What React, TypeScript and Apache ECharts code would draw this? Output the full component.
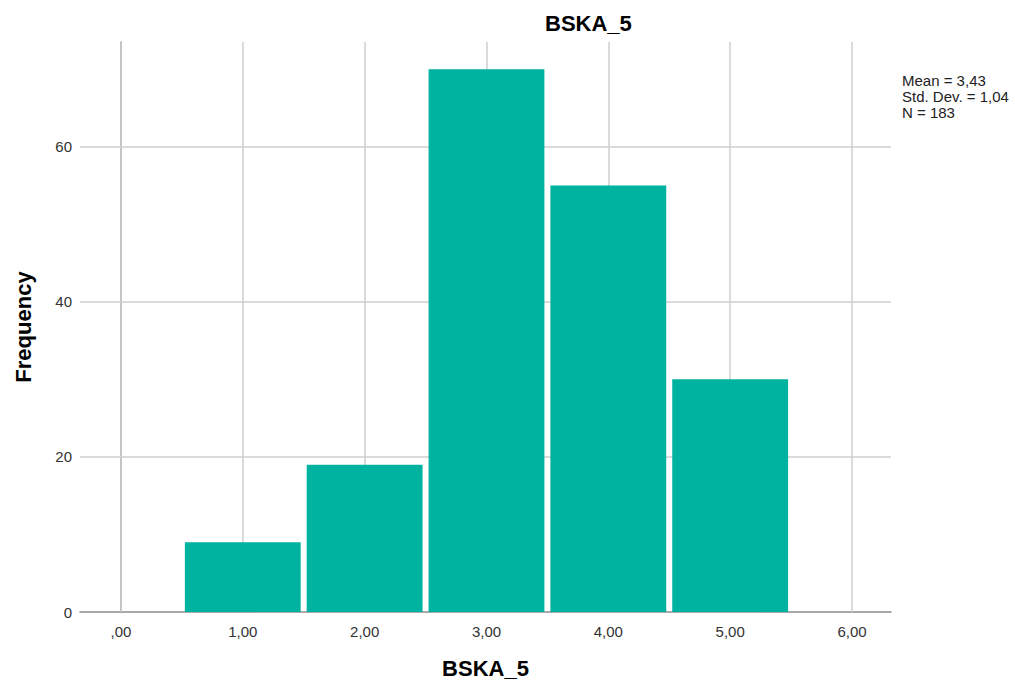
import React, { useEffect, useRef } from "react";
import * as echarts from "echarts";

const binCenters = [1, 2, 3, 4, 5];
const frequencies = [9, 19, 70, 55, 30];
const xTicks = [0, 1, 2, 3, 4, 5, 6];
const yTicks = [0, 20, 40, 60];
const statsLines = ["Mean = 3,43", "Std. Dev. = 1,04", "N = 183"];
const varName = "BSKA_5";

const FONT = "'Liberation Sans', Arial, sans-serif";

export default function App() {
  const ref = useRef<HTMLDivElement>(null);
  useEffect(() => {
    if (!ref.current) return;
    const chart = echarts.init(ref.current, undefined, { renderer: "svg" });
    const data = binCenters.map((c, i) => [c, frequencies[i]]);
    chart.setOption({
      animation: false,
      textStyle: { fontFamily: FONT },
      grid: { left: 80, right: 124, top: 42, bottom: 74 },
      xAxis: {
        type: "value",
        min: -0.336,
        max: 6.32,
        name: varName,
        nameLocation: "middle",
        nameGap: 45,
        nameTextStyle: { fontSize: 22, fontWeight: "bold", color: "#000", fontFamily: FONT },
        axisLine: { show: true, lineStyle: { color: "#8c8c8c", width: 1.5 } },
        axisTick: { show: false },
        splitLine: { show: false },
        axisLabel: {
          customValues: xTicks,
          formatter: (v: number) => (v === 0 ? ",00" : v.toFixed(2).replace(".", ",")),
          fontSize: 15,
          color: "#333",
          margin: 12,
          fontFamily: FONT,
        },
      },
      yAxis: {
        type: "value",
        min: 0,
        max: 73.5,
        name: "Frequency",
        nameLocation: "middle",
        nameRotate: 90,
        nameGap: 46,
        nameTextStyle: { fontSize: 22, fontWeight: "bold", color: "#000", fontFamily: FONT },
        axisLine: { show: true, lineStyle: { color: "#8c8c8c", width: 1.5 } },
        axisTick: { show: false },
        splitLine: { show: false },
        axisLabel: {
          customValues: yTicks,
          fontSize: 15,
          color: "#333",
          margin: 8,
          fontFamily: FONT,
        },
      },
      series: [
        {
          type: "line",
          data: [],
          z: 1,
          silent: true,
          markLine: {
            silent: true,
            symbol: ["none", "none"],
            z: 1,
            label: { show: false },
            lineStyle: { color: "#cfcfcf", width: 1.5, type: "solid" },
            data: [
              ...xTicks.map((v) => ({ xAxis: v })),
              ...yTicks.filter((v) => v > 0).map((v) => ({ yAxis: v })),
            ],
          },
        },
        {
          type: "custom",
          z: 3,
          data,
          renderItem: (params: any, api: any) => {
            const c = api.value(0);
            const f = api.value(1);
            const p0 = api.coord([c - 0.5, f]);
            const p1 = api.coord([c + 0.5, 0]);
            const inset = 3;
            return {
              type: "rect",
              shape: {
                x: p0[0] + inset,
                y: p0[1],
                width: p1[0] - p0[0] - inset * 2,
                height: p1[1] - p0[1],
              },
              style: { fill: "#00b3a0" },
            };
          },
        },
      ],
      graphic: [
        {
          type: "text",
          left: 545,
          top: 12,
          style: { text: varName, fontSize: 22, fontWeight: "bold", fill: "#000", fontFamily: FONT },
        },
        {
          type: "text",
          left: 902,
          top: 72,
          style: {
            text: statsLines.join("\n"),
            fontSize: 15,
            lineHeight: 16,
            fill: "#222",
            fontFamily: FONT,
          },
        },
      ],
    });
    return () => chart.dispose();
  }, []);
  return (
    <div
      ref={ref}
      style={{ position: "absolute", left: 0, top: 0, width: 1015, height: 686 }}
    />
  );
}
